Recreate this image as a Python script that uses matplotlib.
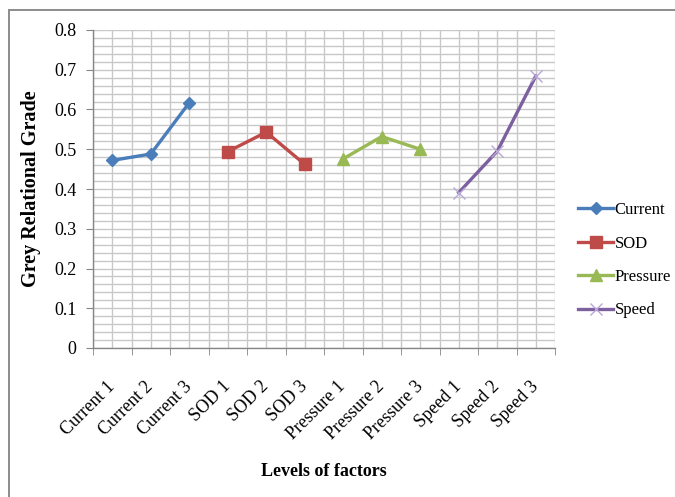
import matplotlib
matplotlib.use("Agg")
import matplotlib.pyplot as plt
from matplotlib.ticker import MultipleLocator, FixedLocator
import matplotlib.transforms as mtransforms

plt.rcParams['font.family'] = ['Liberation Serif', 'DejaVu Serif']

categories = ["Current 1", "Current 2", "Current 3",
              "SOD 1", "SOD 2", "SOD 3",
              "Pressure 1", "Pressure 2", "Pressure 3",
              "Speed 1", "Speed 2", "Speed 3"]

series_names = ["Current", "SOD", "Pressure", "Speed"]
current = [0.472, 0.488, 0.617]
sod = [0.494, 0.543, 0.462]
pressure = [0.476, 0.532, 0.500]
speed = [0.391, 0.495, 0.684]

colors = ["#4A7EBB", "#BE4B48", "#98B954", "#7D60A0"]

fig = plt.figure(figsize=(6.75, 4.97), dpi=100)
ax = fig.add_axes([93 / 675, 1 - 348 / 497, (555 - 93) / 675, (348 - 30) / 497])

# outer chart-area frame
fig.patches.append(plt.Rectangle((8.5 / 675, -0.05), 1.1, 1 - 9.5 / 497 + 0.05,
                                 transform=fig.transFigure, fill=False,
                                 edgecolor="#8C8C8C", linewidth=1.4, zorder=0))

all_series = [current, sod, pressure, speed]
markers = ["D", "s", "^", "x"]
msizes = [6, 8, 8, 9]
for i, (name, vals) in enumerate(zip(series_names, all_series)):
    xs = [3 * i + k for k in range(len(vals))]
    mk_color = colors[i] if markers[i] != "x" else "#B9A8D6"
    ax.plot(xs, vals, color=colors[i], linewidth=2.4, marker=markers[i],
            markersize=msizes[i], markerfacecolor=mk_color,
            markeredgecolor=mk_color, markeredgewidth=1.0,
            label=name, zorder=3)

ax.set_xlim(-0.5, len(categories) - 0.5)
ax.set_ylim(0, 0.8)

# y axis: major ticks every 0.1, minor gridlines every 0.02
ax.yaxis.set_major_locator(MultipleLocator(0.1))
ax.yaxis.set_minor_locator(MultipleLocator(0.02))
ax.set_yticklabels(["0" if abs(v) < 1e-9 else f"{v:.1f}" for v in ax.get_yticks()])

# x axis: labels at category centers, tick marks at boundaries
ax.xaxis.set_major_locator(FixedLocator(range(len(categories))))
ax.xaxis.set_minor_locator(FixedLocator([k - 0.5 for k in range(len(categories) + 1)]))
ax.set_xticklabels(categories, rotation=45, ha="right", va="center",
                   rotation_mode="anchor", fontsize=13)
shift = mtransforms.ScaledTranslation(3 / 100, 0, fig.dpi_scale_trans)
for lbl in ax.get_xticklabels():
    lbl.set_transform(lbl.get_transform() + shift)
ax.tick_params(axis="x", which="major", length=0, pad=26)
ax.tick_params(axis="x", which="minor", length=5, color="#868686", direction="out")
ax.tick_params(axis="y", which="major", length=5, color="#868686", labelsize=13, pad=7)
ax.tick_params(axis="y", which="minor", length=0)

grid_color = "#C8C8C8"
ax.grid(True, which="both", axis="both", color=grid_color, linewidth=1.0, zorder=0)
ax.set_axisbelow(True)

for side in ["top", "right"]:
    ax.spines[side].set_visible(False)
for side in ["left", "bottom"]:
    ax.spines[side].set_color("#868686")
    ax.spines[side].set_linewidth(1.0)

ax.set_xlabel("Levels of factors", fontsize=13, fontweight="bold", labelpad=14)
ax.set_ylabel("Grey Relational Grade", fontsize=14.5, fontweight="bold", labelpad=9)

leg = fig.legend(loc="upper left", bbox_to_anchor=(563 / 675, 1 - 187 / 497),
                 frameon=False, fontsize=12, handlelength=2.1,
                 handletextpad=0.1, labelspacing=1.05)

fig.savefig("out.png", dpi=100)
